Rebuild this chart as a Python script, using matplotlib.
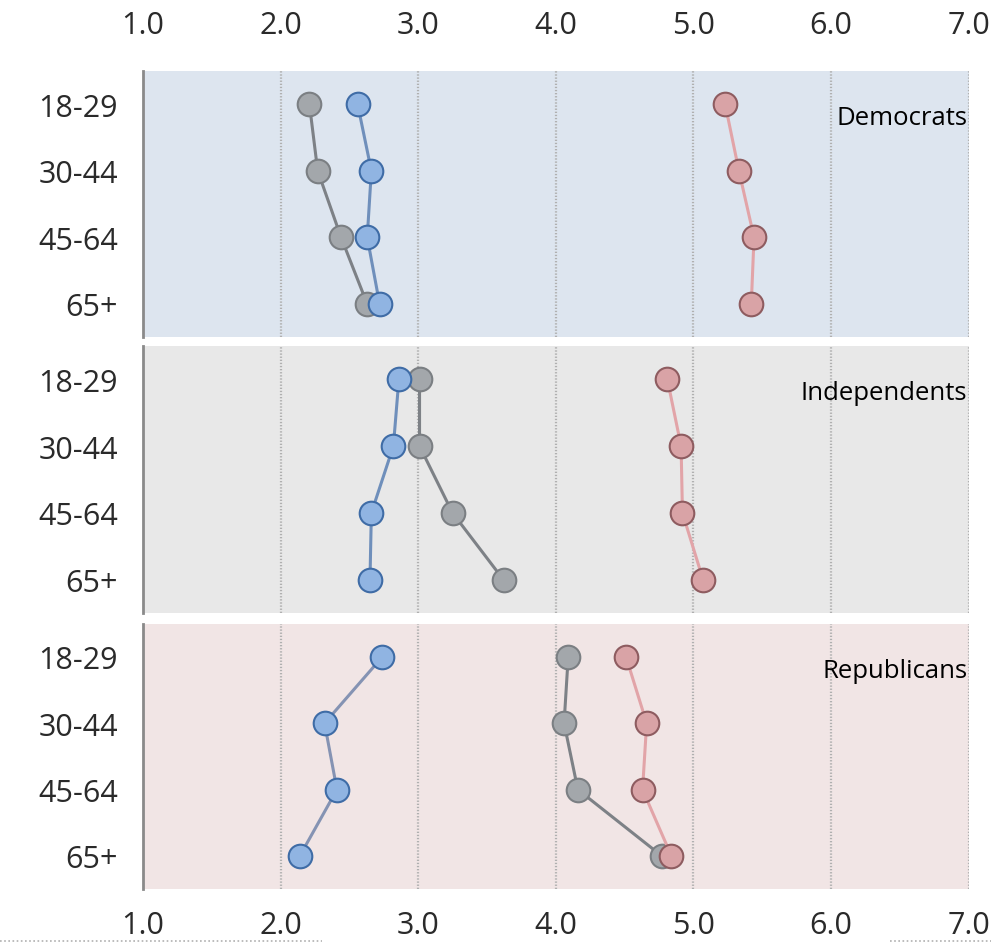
import matplotlib
matplotlib.use("Agg")
import matplotlib.pyplot as plt
from matplotlib.lines import Line2D

ages = ["18-29", "30-44", "45-64", "65+"]
groups = ["Democrats", "Independents", "Republicans"]

# values, rows in order of ages
dem_gray = [2.21, 2.27, 2.44, 2.63]
dem_blue = [2.56, 2.66, 2.63, 2.72]
dem_red = [5.23, 5.33, 5.44, 5.42]

ind_gray = [3.01, 3.01, 3.25, 3.62]
ind_blue = [2.86, 2.82, 2.66, 2.65]
ind_red = [4.81, 4.91, 4.92, 5.07]

rep_gray = [4.09, 4.06, 4.16, 4.77]
rep_blue = [2.74, 2.32, 2.41, 2.14]
rep_red = [4.51, 4.66, 4.63, 4.84]

xticks = [1.0, 2.0, 3.0, 4.0, 5.0, 6.0, 7.0]

panels = [
    (groups[0], dem_gray, dem_blue, dem_red, "#dde5ef", "#6f8fbb"),
    (groups[1], ind_gray, ind_blue, ind_red, "#e8e8e8", "#6f8fbb"),
    (groups[2], rep_gray, rep_blue, rep_red, "#f1e5e5", "#8593b3"),
]
boxes = [(0.642, 0.924), (0.350, 0.633), (0.058, 0.339)]

plt.rcParams['font.family'] = ['Open Sans', 'DejaVu Sans']

fig = plt.figure(figsize=(10.06, 9.45), dpi=100)
fig.patch.set_facecolor("white")

y = list(range(len(ages)))
for i, (name, g, b, r, bg, bline) in enumerate(panels):
    bot, top = boxes[i]
    ax = fig.add_axes([0.142, bot, 0.821, top - bot])
    ax.set_facecolor(bg)
    ax.set_xlim(1.0, 7.0)
    ax.set_ylim(3.5, -0.5)
    for xv in xticks[1:]:
        ax.axvline(xv, color="#b0b0b0", lw=1.6, ls=(0, (0.6, 0.8)), zorder=1)
    ax.plot(g, y, color="#7d8186", lw=2.2, marker="o", ms=17,
            mfc="#a3a7ab", mec="#7b7f83", mew=1.5, zorder=3)
    ax.plot(b, y, color=bline, lw=2.2, marker="o", ms=17,
            mfc="#90b4e2", mec="#3f6ca6", mew=1.5, zorder=4)
    ax.plot(r, y, color="#e2a4a8", lw=2.2, marker="o", ms=17,
            mfc="#d9a3a6", mec="#8e5c60", mew=1.5, zorder=4)
    ax.text(6.99, 0.2, name, ha="right", va="center", fontsize=18.5,
            color="black", zorder=5)
    for s in ["top", "right", "bottom"]:
        ax.spines[s].set_visible(False)
    ax.spines["left"].set_color("#8a8a8a")
    ax.spines["left"].set_linewidth(2)
    ax.set_yticks(y)
    ax.set_yticklabels(ages, fontsize=22, color="#2a2a2a")
    ax.tick_params(axis="y", length=0, pad=18)
    ax.set_xticks(xticks)
    ax.set_xticklabels(["%.1f" % t for t in xticks], fontsize=22, color="#2a2a2a")
    if i == 0:
        ax.tick_params(axis="x", length=0, top=True, labeltop=True,
                       bottom=False, labelbottom=False, pad=22)
    elif i == 2:
        ax.tick_params(axis="x", length=0, pad=15)
    else:
        ax.tick_params(axis="x", length=0, labelbottom=False)

# faint dotted strokes at the bottom edge
fig.add_artist(Line2D([0.0, 0.32], [0.003, 0.003], color="#b0b0b0", lw=1.2,
                      ls=(0, (1, 1.5))))
fig.add_artist(Line2D([0.885, 0.985], [0.003, 0.003], color="#b0b0b0", lw=1.2,
                      ls=(0, (1, 1.5))))

fig.savefig("out.png", dpi=100)
